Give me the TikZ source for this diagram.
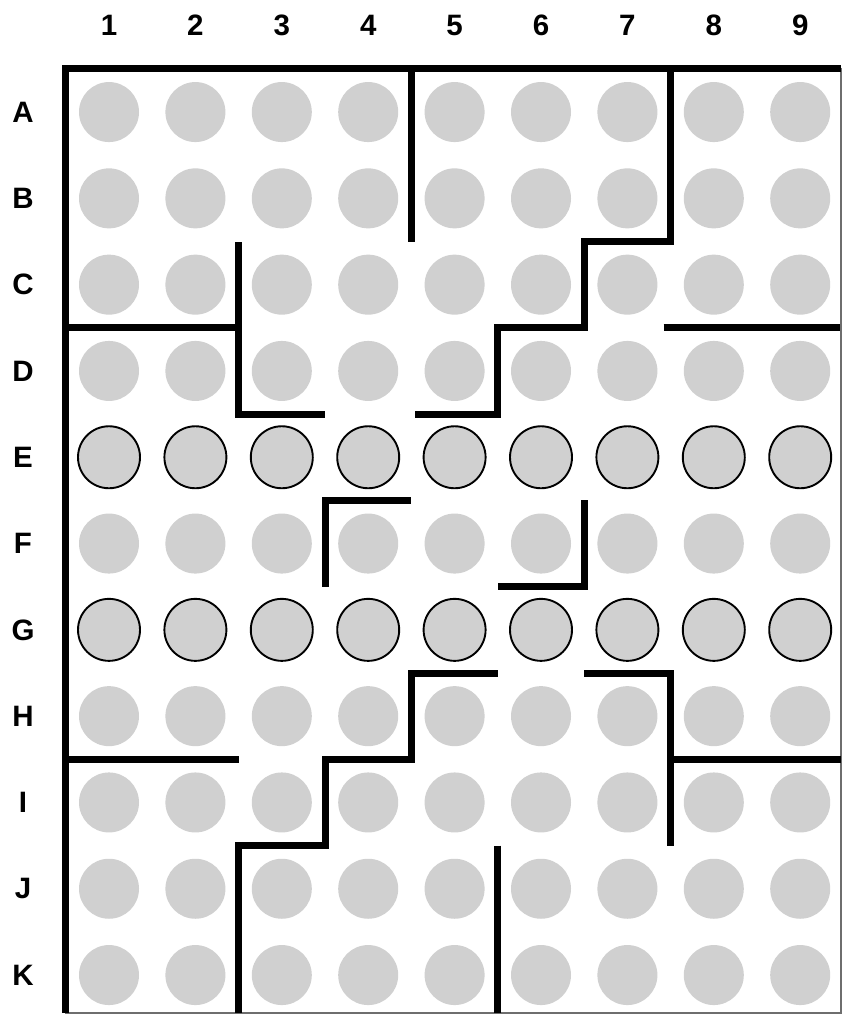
\documentclass[tikz,border=0pt]{standalone}
\usepackage{fontspec}
\setmainfont{Liberation Sans}
\definecolor{wellgray}{RGB}{208,208,208}
\definecolor{framegray}{RGB}{110,110,110}
\begin{document}
\begin{tikzpicture}[x=1pt,y=-1pt,
  well/.style={circle,inner sep=0pt,minimum size=60pt,fill=wellgray},
  markedwell/.style={circle,inner sep=0pt,minimum size=62pt,fill=wellgray,draw=black,line width=1.9pt},
  wall/.style={line width=7pt,line join=miter,line cap=butt,black},
  lab/.style={font=\fontsize{29.5}{30}\selectfont\bfseries,inner sep=0pt,text=black}]
\useasboundingbox (0,0) rectangle (842,1015);
\fill[white] (0,0) rectangle (842,1015);
% thin outer frame
\draw[line width=1.5pt,framegray] (66,69) rectangle (841,1013);
% column labels
\foreach \c in {1,...,9}
  \node[lab] (col\c) at ({65.8+86.4*(\c-0.5)},25.5) {\c};
% row labels
\foreach \r [count=\i from 0] in {A,B,C,D,E,F,G,H,I,J,K}
  \node[lab] (row\r) at (23,{68.9+86.3*(\i+0.5)}) {\r};
\begin{scope}[shift={(65.8pt,-68.9pt)},x=86.4pt,y=-86.3pt]
  % wells
  \foreach \r/\st [count=\i from 0] in {A/well,B/well,C/well,D/well,E/markedwell,F/well,G/markedwell,H/well,I/well,J/well,K/well}
    \foreach \c in {1,...,9}
      \node[\st] (w\r\c) at ({\c-0.5},{\i+0.5}) {};
  % outer thick walls
  \draw[wall] (8.97,0) -- (0,0) -- (0,10.94);
  % inner walls
  \draw[wall] (4,0) -- (4,2);
  \draw[wall] (7,0) -- (7,2) -- (6,2) -- (6,3) -- (5,3) -- (5,4) -- (4.04,4);
  \draw[wall] (2,2.01) -- (2,4) -- (3,4);
  \draw[wall] (0,3) -- (2,3);
  \draw[wall] (6.92,3) -- (8.96,3);
  \draw[wall] (3,6) -- (3,5) -- (4,5);
  \draw[wall] (6,5) -- (6,6) -- (5,6);
  \draw[wall] (5,7) -- (4,7) -- (4,8) -- (3,8) -- (3,9) -- (2,9) -- (2,10.94);
  \draw[wall] (6,7) -- (7,7) -- (7,9);
  \draw[wall] (7,8) -- (8.97,8);
  \draw[wall] (0,8) -- (2,8);
  \draw[wall] (5,9) -- (5,10.94);
\end{scope}
\end{tikzpicture}
\end{document}
